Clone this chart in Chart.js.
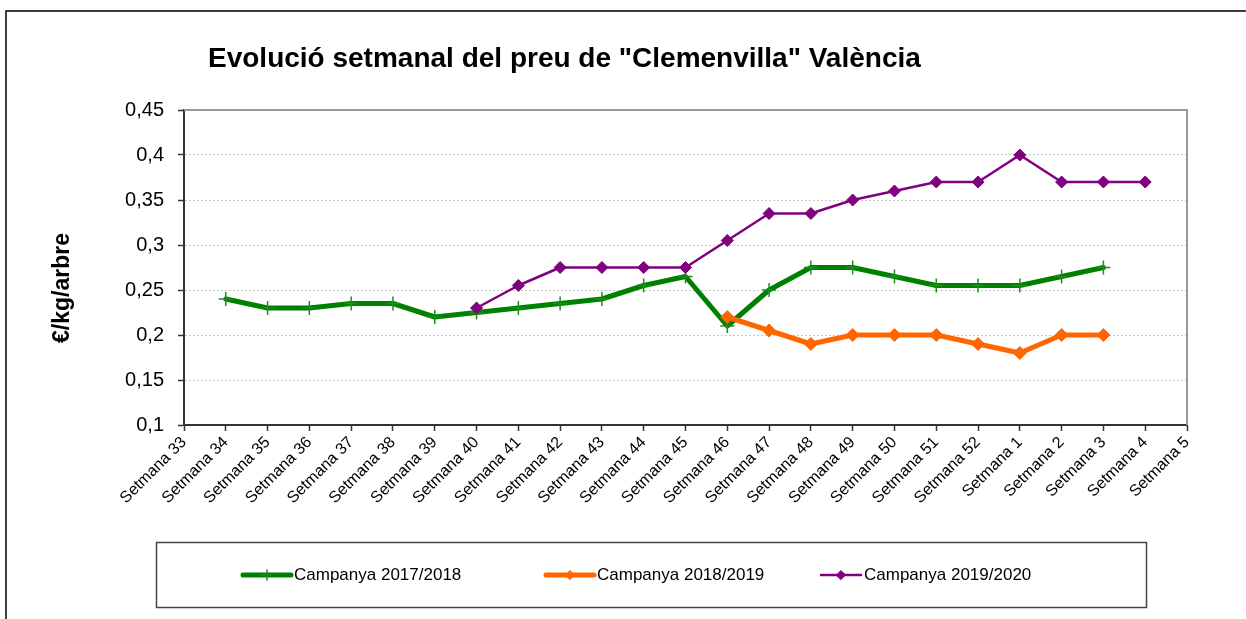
<!DOCTYPE html>
<html><head><meta charset="utf-8">
<script src="https://cdn.jsdelivr.net/npm/chart.js@4.4.0/dist/chart.umd.min.js"></script>
<style>html,body{margin:0;padding:0;background:#fff;overflow:hidden}#wrap{position:relative;width:1246px;height:619px}canvas{display:block}</style>
</head><body><div id="wrap"><canvas id="c" width="1246" height="619"></canvas></div>
<script>
const chartTitle = 'Evolució setmanal del preu de "Clemenvilla" València';
const yAxisTitle = '€/kg/arbre';
const categories = ['Setmana 33','Setmana 34','Setmana 35','Setmana 36','Setmana 37','Setmana 38','Setmana 39','Setmana 40','Setmana 41','Setmana 42','Setmana 43','Setmana 44','Setmana 45','Setmana 46','Setmana 47','Setmana 48','Setmana 49','Setmana 50','Setmana 51','Setmana 52','Setmana 1','Setmana 2','Setmana 3','Setmana 4','Setmana 5'];
const seriesNames = ['Campanya 2017/2018','Campanya 2018/2019','Campanya 2019/2020'];
const campanya2017 = [null,0.24,0.23,0.23,0.235,0.235,0.22,0.225,0.23,0.235,0.24,0.255,0.265,0.21,0.25,0.275,0.275,0.265,0.255,0.255,0.255,0.265,0.275,null,null];
const campanya2018 = [null,null,null,null,null,null,null,null,null,null,null,null,null,0.22,0.205,0.19,0.2,0.2,0.2,0.19,0.18,0.2,0.2,null,null];
const campanya2019 = [null,null,null,null,null,null,null,0.23,0.255,0.275,0.275,0.275,0.275,0.305,0.335,0.335,0.35,0.36,0.37,0.37,0.4,0.37,0.37,0.37,null];
const yMin = 0.1, yMax = 0.45, yStep = 0.05;

const FONT = '"Liberation Sans", Arial, sans-serif';

const decor = {
  id: 'decor',
  beforeDraw(chart) {
    const ctx = chart.ctx;
    ctx.save();
    ctx.fillStyle = '#fff';
    ctx.fillRect(0, 0, chart.width, chart.height);
    ctx.strokeStyle = '#000';
    ctx.lineWidth = 1.5;
    ctx.beginPath();
    ctx.moveTo(6, chart.height);
    ctx.lineTo(6, 11);
    ctx.lineTo(chart.width, 11);
    ctx.stroke();
    ctx.fillStyle = '#000';
    ctx.font = 'bold 28px ' + FONT;
    ctx.textAlign = 'left';
    ctx.textBaseline = 'alphabetic';
    ctx.fillText(chartTitle, 208, 67);
    ctx.translate(63, 288);
    ctx.rotate(-Math.PI / 2);
    ctx.font = 'bold 23px ' + FONT;
    ctx.textAlign = 'center';
    ctx.textBaseline = 'middle';
    ctx.fillText(yAxisTitle, 0, 0);
    ctx.restore();
  },
  beforeDatasetsDraw(chart) {
    const ctx = chart.ctx, a = chart.chartArea;
    ctx.save();
    ctx.strokeStyle = '#999';
    ctx.lineWidth = 2;
    ctx.beginPath();
    ctx.moveTo(a.left, a.top);
    ctx.lineTo(a.right, a.top);
    ctx.lineTo(a.right, a.bottom);
    ctx.stroke();
    ctx.restore();
  },
  afterDraw(chart) {
    const ctx = chart.ctx;
    ctx.save();
    ctx.strokeStyle = '#444';
    ctx.lineWidth = 1.5;
    ctx.strokeRect(156.5, 542.5, 990, 65);
    const pos = [{x0: 243, x1: 291}, {x0: 546, x1: 594}, {x0: 821, x1: 861}];
    const y = 575;
    chart.data.datasets.forEach((ds, i) => {
      const p = pos[i];
      ctx.strokeStyle = ds.borderColor;
      ctx.lineWidth = ds.borderWidth;
      ctx.lineCap = 'round';
      ctx.beginPath();
      ctx.moveTo(p.x0, y);
      ctx.lineTo(p.x1, y);
      ctx.stroke();
      ctx.fillStyle = ds.pointBackgroundColor;
      ctx.strokeStyle = ds.pointBorderColor;
      ctx.lineWidth = ds.pointBorderWidth;
      Chart.helpers.drawPoint(ctx, {pointStyle: ds.pointStyle, radius: ds.pointStyle === 'cross' ? 5 : 4.5, borderWidth: ds.pointBorderWidth, rotation: 0}, (p.x0 + p.x1) / 2, y);
      ctx.fillStyle = '#000';
      ctx.font = '17px ' + FONT;
      ctx.textAlign = 'left';
      ctx.textBaseline = 'middle';
      ctx.fillText(ds.label, p.x1 + 3, y);
    });
    ctx.restore();
  }
};

new Chart(document.getElementById('c'), {
  type: 'line',
  data: {
    labels: categories,
    datasets: [
      {label: seriesNames[0], data: campanya2017, borderColor: '#008000', backgroundColor: '#008000', borderWidth: 5,
       pointStyle: 'cross', pointRadius: 7, pointBorderWidth: 1.5, pointBorderColor: '#1a8f1a', pointBackgroundColor: '#1a8f1a', order: 3, tension: 0},
      {label: seriesNames[1], data: campanya2018, borderColor: '#ff6600', backgroundColor: '#ff6600', borderWidth: 5,
       pointStyle: 'rectRot', pointRadius: 6.5, pointBorderWidth: 1, pointBorderColor: '#ff6600', pointBackgroundColor: '#ff6600', order: 2, tension: 0},
      {label: seriesNames[2], data: campanya2019, borderColor: '#800080', backgroundColor: '#800080', borderWidth: 2.5,
       pointStyle: 'rectRot', pointRadius: 6, pointBorderWidth: 1, pointBorderColor: '#800080', pointBackgroundColor: '#800080', order: 1, tension: 0}
    ]
  },
  options: {
    responsive: false,
    animation: false,
    devicePixelRatio: 1,
    layout: {padding: {left: 0, top: 110, right: 59, bottom: 0}},
    plugins: {legend: {display: false}, title: {display: false}, tooltip: {enabled: false}},
    elements: {line: {borderJoinStyle: 'round', borderCapStyle: 'round'}},
    scales: {
      x: {
        offset: false,
        grid: {drawOnChartArea: false, drawTicks: true, tickLength: 6, tickColor: '#333', tickWidth: 1.5},
        border: {display: true, color: '#333', width: 2},
        ticks: {autoSkip: false, maxRotation: 45, minRotation: 45, color: '#000', padding: 2, font: {family: FONT, size: 16}},
        afterFit(scale) { scale.height = 619 - 425; scale.paddingLeft = 0; scale.paddingRight = 0; }
      },
      y: {
        min: yMin, max: yMax,
        grid: {color: '#c8c8c8', lineWidth: 1, drawTicks: true, tickLength: 6, tickColor: '#333', tickWidth: 1.5, tickBorderDash: []},
        border: {display: true, color: '#333', width: 2, dash: [2, 2]},
        ticks: {stepSize: yStep, color: '#000', padding: 14, font: {family: FONT, size: 20},
          callback: v => Number(v.toFixed(2)).toString().replace('.', ',')},
        afterFit(scale) { scale.width = 184; scale.paddingTop = 0; scale.paddingBottom = 0; }
      }
    }
  },
  plugins: [decor]
});
</script>
</body></html>
